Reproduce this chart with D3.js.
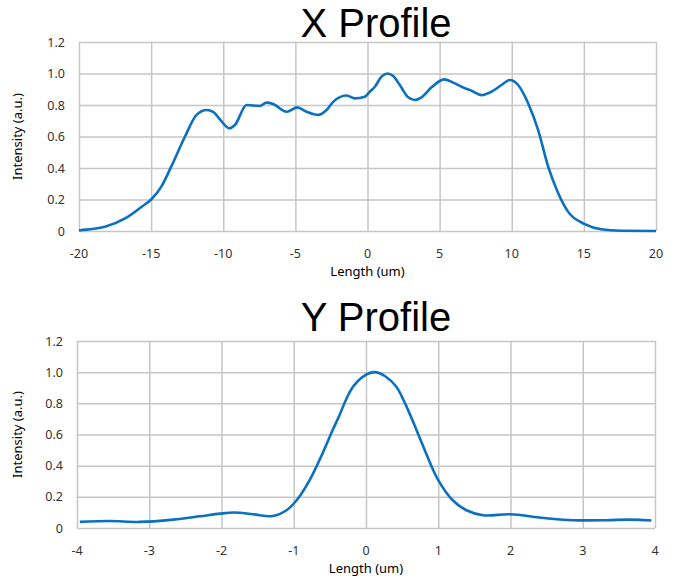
<!DOCTYPE html>
<html>
<head>
<meta charset="utf-8">
<script src="https://cdn.jsdelivr.net/npm/d3@7"></script>
<style>
  body { margin: 0; background: #fff; }
  svg text { font-family: "Noto Sans", sans-serif; }
  svg text.title { font-family: "Liberation Sans", Arial, sans-serif; }
  .grid line, .grid path { stroke: #c6c6c6; stroke-width: 1.5; }
</style>
</head>
<body>
<svg id="chart" width="692" height="580"></svg>
<script>
// X profile data (length in um, normalised intensity)
const xProfileLength = [-20, -19.9, -18.2, -16.8, -15.65, -15, -14.3, -13.6, -12.65, -11.85, -11.15, -10.7, -10.2, -9.58, -9.19, -8.38,
  -7.46, -7.0, -6.54, -5.6, -4.87, -4.22, -3.42, -2.84, -2.38, -1.45, -0.88, -0.19, 0.16, 0.51, 0.97, 1.38, 1.78, 2.24,
  2.82, 3.28, 3.75, 4.44, 5.32, 5.94, 6.75, 7.21, 7.9, 8.6, 9.29, 9.87, 10.44, 11.14, 11.83, 12.52, 13.22, 13.9, 15.06,
  16.2, 17.6, 20];
const xProfileIntensity = [0.004, 0.005, 0.027, 0.08, 0.154, 0.2, 0.28, 0.41, 0.6, 0.737, 0.768, 0.757, 0.705, 0.652, 0.673, 0.8,
  0.794, 0.815, 0.806, 0.757, 0.785, 0.757, 0.737, 0.768, 0.82, 0.86, 0.842, 0.853, 0.885, 0.916, 0.98, 1.0, 0.984, 0.927,
  0.849, 0.832, 0.849, 0.912, 0.963, 0.942, 0.906, 0.891, 0.863, 0.885, 0.927, 0.959, 0.927, 0.81, 0.641, 0.41, 0.24, 0.123, 0.044,
  0.011, 0.002, 0.0];

// Y profile data
const yProfileLength = [-3.96, -3.55, -3.13, -2.67, -2.3, -2.02, -1.82, -1.56, -1.29, -1.1, -0.96, -0.78, -0.6, -0.46, -0.37, -0.28,
  -0.18, -0.03, 0.12, 0.27, 0.42, 0.55, 0.7, 0.84, 1.0, 1.2, 1.39, 1.62, 2.0, 2.4, 2.87, 3.33, 3.65, 3.95];
const yProfileIntensity = [0.039, 0.045, 0.039, 0.054, 0.075, 0.092, 0.099, 0.088, 0.077, 0.114, 0.178, 0.307, 0.48, 0.63, 0.72, 0.82,
  0.906, 0.975, 1.0, 0.972, 0.906, 0.79, 0.628, 0.47, 0.307, 0.178, 0.114, 0.082, 0.088, 0.067, 0.05, 0.05, 0.054, 0.048];

const xTicksTop = [-20, -15, -10, -5, 0, 5, 10, 15, 20];
const xTicksBottom = [-4, -3, -2, -1, 0, 1, 2, 3, 4];
const yTicks = [0, 0.2, 0.4, 0.6, 0.8, 1.0, 1.2];

const svg = d3.select("#chart");

function drawProfile(opts) {
  const { title, lengths, values, xDomain, xTicks, box, titleY, curve } = opts;

  const x = d3.scaleLinear().domain(xDomain).range([box.left, box.right]);
  const y = d3.scaleLinear().domain([0, 1.2]).range([box.bottom, box.top]);

  // title
  svg.append("text")
    .attr("class", "title")
    .attr("x", 376)
    .attr("y", titleY)
    .attr("text-anchor", "middle")
    .attr("font-size", 40)
    .attr("fill", "#000")
    .text(title);

  // vertical grid lines
  svg.append("g")
    .attr("class", "grid")
    .attr("transform", "translate(0," + box.bottom + ")")
    .call(d3.axisBottom(x).tickValues(xTicks).tickSize(-(box.bottom - box.top)).tickFormat(""))
    .call(g => g.select(".domain").remove());

  // horizontal grid lines
  svg.append("g")
    .attr("class", "grid")
    .attr("transform", "translate(" + box.left + ",0)")
    .call(d3.axisLeft(y).tickValues(yTicks).tickSize(-(box.right - box.left)).tickFormat(""))
    .call(g => g.select(".domain").remove());

  // tick labels
  svg.append("g")
    .selectAll("text")
    .data(xTicks)
    .join("text")
      .attr("x", d => x(d))
      .attr("y", box.bottom + 27)
      .attr("text-anchor", "middle")
      .attr("font-size", 12.5)
      .attr("fill", "#333")
      .text(d => d);

  svg.append("g")
    .selectAll("text")
    .data(yTicks)
    .join("text")
      .attr("x", box.left - 14)
      .attr("y", d => y(d) + 4.5)
      .attr("text-anchor", "end")
      .attr("font-size", 12.5)
      .attr("fill", "#333")
      .text(d => d === 0 ? "0" : d.toFixed(1));

  // axis labels
  svg.append("text")
    .attr("x", (box.left + box.right) / 2)
    .attr("y", box.bottom + 45)
    .attr("text-anchor", "middle")
    .attr("font-size", 13)
    .attr("fill", "#000")
    .text("Length (um)");

  svg.append("text")
    .attr("transform", "translate(22," + ((box.top + box.bottom) / 2) + ") rotate(-90)")
    .attr("text-anchor", "middle")
    .attr("font-size", 13)
    .attr("fill", "#000")
    .text("Intensity (a.u.)");

  // the profile line
  const pts = lengths.map((l, i) => [l, values[i]]);
  svg.append("path")
    .datum(pts)
    .attr("fill", "none")
    .attr("stroke", "#0b70c0")
    .attr("stroke-width", 2.6)
    .attr("stroke-linejoin", "round")
    .attr("d", d3.line()
      .x(d => x(d[0]))
      .y(d => y(d[1]))
      .curve(curve));
}

drawProfile({
  title: "X Profile",
  lengths: xProfileLength,
  values: xProfileIntensity,
  xDomain: [-20, 20],
  xTicks: xTicksTop,
  box: { left: 79, right: 656, top: 42, bottom: 231 },
  titleY: 36.5,
  curve: d3.curveMonotoneX
});

drawProfile({
  title: "Y Profile",
  lengths: yProfileLength,
  values: yProfileIntensity,
  xDomain: [-4, 4],
  xTicks: xTicksBottom,
  box: { left: 77, right: 655, top: 341, bottom: 528 },
  titleY: 331,
  curve: d3.curveCatmullRom.alpha(0.5)
});
</script>
</body>
</html>
